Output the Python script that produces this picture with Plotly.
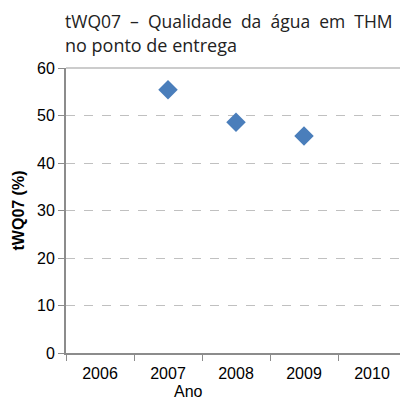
import plotly.graph_objects as go

years = [2007, 2008, 2009]
values = [55.4, 48.6, 45.7]
x_ticks = [2006, 2007, 2008, 2009, 2010]
y_ticks = [0, 10, 20, 30, 40, 50, 60]

fig = go.Figure()
fig.add_trace(go.Scatter(
    x=years, y=values, mode="markers",
    marker=dict(symbol="diamond", size=15, color="#4A7EBB"),
    showlegend=False, hoverinfo="skip"
))

nb = "\u00a0"
title1 = f"tWQ07{nb} –{nb} Qualidade{nb} da{nb} água{nb} em{nb} THM"

# the page body adds an 8px offset, so the figure is 8px smaller and margins shifted
fig.update_layout(
    width=400, height=393,
    margin=dict(l=58, r=2, t=60, b=48),
    paper_bgcolor="white", plot_bgcolor="white",
    font=dict(family="Liberation Sans, Arial", size=16, color="black"),
    xaxis=dict(
        range=[2005.5, 2010.5], tickvals=x_ticks, ticktext=[str(v) for v in x_ticks],
        ticks="", showgrid=False, zeroline=False, automargin=False,
        showline=True, linecolor="#8c8c8c", linewidth=2,
        minor=dict(tick0=2005.5, dtick=1, ticks="outside", ticklen=6, tickcolor="#8c8c8c", tickwidth=1, showgrid=False),
        tickfont=dict(size=16), ticklabelstandoff=5, fixedrange=True,
    ),
    yaxis=dict(
        range=[0, 60], tickvals=y_ticks, ticks="outside", ticklen=6, tickcolor="#8c8c8c",
        showgrid=True, gridcolor="#c0c0c0", griddash="dash", gridwidth=1,
        zeroline=False, showline=True, linecolor="#8c8c8c", linewidth=2, automargin=False,
        tickfont=dict(size=16),
        title=dict(text="<b>tWQ07 (%)</b>", font=dict(size=16), standoff=8),
        fixedrange=True,
    ),
    shapes=[
        dict(type="line", xref="paper", yref="paper", x0=0, x1=1, y0=1, y1=1,
             line=dict(color="#cccccc", width=2)),
        dict(type="line", xref="paper", yref="paper", x0=1, x1=1, y0=0, y1=1,
             line=dict(color="#cccccc", width=2)),
    ],
    annotations=[
        dict(text=title1, xref="paper", yref="paper",
             x=0, y=1, xanchor="left", yanchor="bottom", yshift=33, xshift=-3, showarrow=False,
             font=dict(family="Open Sans", size=17.5, color="#222")),
        dict(text="no ponto de entrega", xref="paper", yref="paper",
             x=0, y=1, xanchor="left", yanchor="bottom", yshift=9, xshift=-3, showarrow=False,
             font=dict(family="Open Sans", size=18, color="#222")),
        dict(text="Ano", xref="paper", yref="paper", x=(188 - 66) / 340, y=0,
             xanchor="center", yanchor="top", yshift=-28, showarrow=False,
             font=dict(size=16)),
    ],
)

fig.write_html("out.html")
